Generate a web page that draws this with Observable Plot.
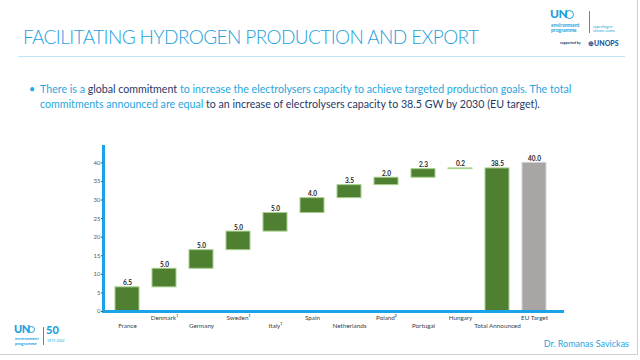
<!DOCTYPE html>
<html>
<head>
<meta charset="utf-8">
<script src="https://cdn.jsdelivr.net/npm/d3@7"></script>
<script src="https://cdn.jsdelivr.net/npm/@observablehq/plot@0.6"></script>
<style>
  html, body { margin: 0; padding: 0; background: #fff; }
  body { width: 640px; height: 360px; position: relative; overflow: hidden; font-family: Lato, "Open Sans", sans-serif; }
  .slide { position: absolute; left: 0; top: 0; width: 637px; height: 354px; border-right: 1px solid #cfcfcf; border-bottom: 1px solid #cfcfcf; }
  .title { position: absolute; left: 23px; top: 25px; font-size: 19px; font-weight: 300; color: #1da1dd; white-space: nowrap; letter-spacing: -0.6px; }
  .rule { position: absolute; left: 18px; top: 56px; width: 607px; height: 1px; background: #bfe6f7; }
  .bullet { position: absolute; left: 29px; top: 81px; font-size: 10.65px; line-height: 15px; color: #27a6df; white-space: nowrap; }
  .bullet b { font-weight: 400; color: #1f3a66; }
  .bullet .dot { position: absolute; left: 0; top: 0; }
  .bullet .txt { position: absolute; left: 11px; top: 0; }
  #chart { position: absolute; left: 60px; top: 140px; }
  .logo { position: absolute; color: #1d9fdc; font-family: Lato, sans-serif; white-space: nowrap; }
  .author { position: absolute; right: 11px; top: 338px; font-size: 9px; color: #27a6df; }
</style>
</head>
<body>
<div class="slide"></div>
<div class="title">FACILITATING HYDROGEN PRODUCTION AND EXPORT</div>
<div class="rule"></div>
<div class="bullet">
  <span class="dot">•</span>
  <span class="txt">There is a <b>global commitment</b> to increase the electrolysers capacity to achieve targeted production goals. The total<br>commitments announced are equal <b>to an increase of electrolysers capacity to 38.5 GW by 2030 (EU target).</b></span>
</div>

<!-- top-right logo -->
<div class="logo" style="left:550px;top:7px;font-size:12px;line-height:13px;font-weight:900;letter-spacing:-0.5px;">UN</div>
<div style="position:absolute;left:565px;top:10px;width:7px;height:7px;border:1.3px solid #1d9fdc;border-radius:50%;"></div>
<div class="logo" style="left:551px;top:23px;font-size:5px;line-height:5px;font-weight:700;">environment<br>programme</div>
<div style="position:absolute;left:589px;top:11px;width:1px;height:22px;background:#1d9fdc;"></div>
<div class="logo" style="left:593px;top:25px;font-size:3.6px;line-height:4px;">copenhagen<br>climate centre</div>
<div class="logo" style="left:560px;top:41px;font-size:3.5px;color:#1f3a66;font-weight:700;">supported by</div>
<div class="logo" style="left:588px;top:39px;font-size:7px;font-weight:900;color:#1f5aa0;">⊕UNOPS</div>

<!-- bottom-left logo -->
<div class="logo" style="left:14px;top:323px;font-size:11px;line-height:12px;font-weight:900;letter-spacing:-0.5px;">UN</div>
<div style="position:absolute;left:28px;top:326px;width:5px;height:5px;border:1.2px solid #1d9fdc;border-radius:50%;"></div>
<div class="logo" style="left:15px;top:337px;font-size:4.2px;line-height:4.5px;font-weight:700;">environment<br>programme</div>
<div style="position:absolute;left:43px;top:327px;width:1px;height:18px;background:#1d9fdc;"></div>
<div class="logo" style="left:46px;top:324px;font-size:11px;line-height:12px;font-weight:900;">50</div>
<div class="logo" style="left:47px;top:339px;font-size:3.5px;">1972-2022</div>

<div class="author">Dr. Romanas Savickas</div>

<div id="chart"></div>
<script>
const categories = ["France", "Denmark¹", "Germany", "Sweden¹", "Italy¹", "Spain", "Netherlands", "Poland²", "Portugal", "Hungary", "Total Announced", "EU Target"];
const values = [6.5, 5.0, 5.0, 5.0, 5.0, 4.0, 3.5, 2.0, 2.3, 0.2, 38.5, 40.0];
const kinds = ["step", "step", "step", "step", "step", "step", "step", "step", "step", "step", "total", "target"];
const yTicks = [0, 5, 10, 15, 20, 25, 30, 35, 40];

let running = 0;
const rows = categories.map((c, i) => {
  let y1, y2;
  if (kinds[i] === "step") { y1 = running; y2 = running + values[i]; running = y2; }
  else { y1 = 0; y2 = values[i]; }
  return { cat: c, value: values[i], kind: kinds[i], y1, y2 };
});
const upperRow = categories.filter((_, i) => i % 2 === 1);
const lowerRow = categories.filter((_, i) => i % 2 === 0);

const blue = "#1aa3e8";
const chart = Plot.plot({
  width: 520,
  height: 196,
  marginLeft: 43,
  marginRight: 16,
  marginTop: 6,
  marginBottom: 25,
  style: { fontFamily: "Lato, 'Open Sans', sans-serif", background: "transparent" },
  x: { domain: categories, range: [43, 499], paddingInner: 0.34, paddingOuter: 0.2 },
  y: { domain: [0, 44.4] },
  marks: [
    Plot.barY(rows, {
      x: "cat", y1: "y1", y2: "y2",
      fill: d => d.kind === "target" ? "#a9a5a5" : "#4f7f30",
      stroke: d => d.kind === "target" ? "#d6d3d3" : "#a8d08d",
      strokeWidth: 1
    }),
    Plot.text(rows, {
      x: "cat", y: "y2", text: d => d.value.toFixed(1),
      lineAnchor: "bottom", dy: -2, fontSize: 6.5, fontWeight: "bold", fill: "#262626"
    }),
    Plot.frame({ anchor: "left", stroke: blue, strokeWidth: 3 }),
    Plot.ruleY([0], { stroke: blue, strokeWidth: 3 }),
    Plot.axisY({ ticks: yTicks, tickSize: 2, tickPadding: 1, fontSize: 6, color: "#595959", label: null }),
    Plot.axisX(upperRow, { tickSize: 0, tickPadding: 4, fontSize: 6.3, color: "#404040", label: null }),
    Plot.axisX(lowerRow, { tickSize: 0, tickPadding: 12.5, fontSize: 6.3, color: "#404040", label: null })
  ]
});
document.getElementById("chart").appendChild(chart);
</script>
</body>
</html>
